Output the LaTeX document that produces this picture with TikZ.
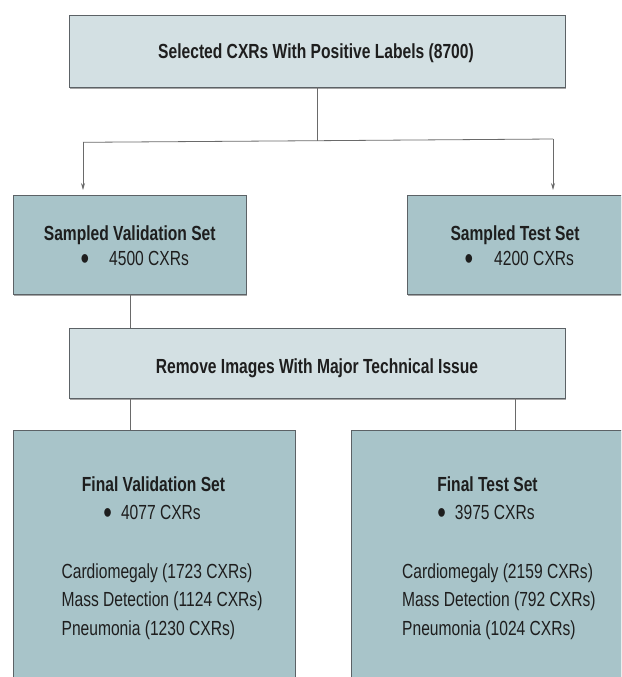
\documentclass[tikz,border=0pt]{standalone}
\usepackage{fontspec}
\setmainfont{Liberation Sans}[FakeStretch=0.765]
\usetikzlibrary{shadows,arrows.meta}
\definecolor{cLight}{HTML}{D3E0E3}
\definecolor{cDark}{HTML}{A8C4C9}
\definecolor{cEdge}{HTML}{5C6266}
\definecolor{cConn}{HTML}{6A6A6A}
\definecolor{cInk}{HTML}{1E1E1E}
\begin{document}
\begin{tikzpicture}[x=1pt,y=-1pt,
  boxbase/.style={draw=cEdge, line width=0.7pt, rectangle, inner sep=0pt,
    drop shadow={shadow xshift=0.6pt, shadow yshift=-1.8pt, fill=black, opacity=0.35}},
  lightbox/.style={boxbase, fill=cLight},
  darkbox/.style={boxbase, fill=cDark},
  txt/.style={text=cInk, font=\fontsize{20.4}{25.5}\selectfont, inner sep=0pt, anchor=base west},
  ttl/.style={text=cInk, font=\fontsize{20.4}{25.5}\selectfont\bfseries, inner sep=0pt, anchor=base},
  bul/.style={text=cInk, font=\fontsize{32}{34}\selectfont, inner sep=0pt, anchor=base},
  conn/.style={draw=cConn, line width=0.8pt},
  arr/.style={conn, -{Stealth[length=7pt,width=4pt]}}]
\useasboundingbox (0,0) rectangle (621,677);
\clip (0,0) rectangle (621,677);
\fill[white] (0,0) rectangle (621,677);

% boxes
\node[lightbox, minimum width=496pt, minimum height=72pt] (top) at (317.4,51) {};
\node[darkbox, minimum width=233.3pt, minimum height=99pt] (sv) at (129.7,244.5) {};
\node[darkbox, minimum width=294pt, minimum height=99pt] (st) at (554,244.5) {};
\node[lightbox, minimum width=496pt, minimum height=70pt] (rm) at (317.4,363) {};
\node[darkbox, minimum width=282pt, minimum height=290pt] (fv) at (154,575) {};
\node[darkbox, minimum width=348.3pt, minimum height=290pt] (ft) at (525.9,575) {};

% texts
\node[ttl] (toptxt) at (316,59) {Selected CXRs With Positive Labels (8700)};
\node[ttl] (svtxt) at (129.7,240) {Sampled Validation Set};
\node[bul] (svb) at (85,269) {\textbullet};
\node[txt] (svn) at (109,265) {4500 CXRs};
\node[ttl] (sttxt) at (515,240) {Sampled Test Set};
\node[bul] (stb) at (469,269) {\textbullet};
\node[txt] (stn) at (494,265) {4200 CXRs};
\node[ttl] (rmtxt) at (317,373) {Remove Images With Major Technical Issue};
\node[ttl] (fvtxt) at (153.5,491) {Final Validation Set};
\node[bul] (fvb) at (107.7,523) {\textbullet};
\node[txt] (fvn) at (120.8,519) {4077 CXRs};
\node[txt] (fv1) at (61.4,578) {Cardiomegaly (1723 CXRs)};
\node[txt] (fv2) at (61.4,606.5) {Mass Detection (1124 CXRs)};
\node[txt] (fv3) at (61.4,635) {Pneumonia (1230 CXRs)};
\node[ttl] (fttxt) at (487.5,491) {Final Test Set};
\node[bul] (ftb) at (441.6,523) {\textbullet};
\node[txt] (ftn) at (454.7,519) {3975 CXRs};
\node[txt] (ft1) at (402,578) {Cardiomegaly (2159 CXRs)};
\node[txt] (ft2) at (402,606.5) {Mass Detection (792 CXRs)};
\node[txt] (ft3) at (402,635) {Pneumonia (1024 CXRs)};

% connectors
\coordinate (j) at (317,140.7);
\coordinate (jl) at (83,142.3);
\coordinate (jr) at (553,139);
\coordinate (al) at (83,190);
\coordinate (ar) at (553,190);
\coordinate (cl) at (130.7,0);
\coordinate (cr) at (515,0);
\draw[conn] (top.south -| j) -- (j);
\draw[conn] (jl) -- (j) -- (jr);
\draw[arr] (jl) -- (al);
\draw[arr] (jr) -- (ar);
\draw[conn] (sv.south -| cl) -- (rm.north -| cl);
\draw[conn] (rm.south -| cl) -- (fv.north -| cl);
\draw[conn] (rm.south -| cr) -- (ft.north -| cr);
\end{tikzpicture}
\end{document}
